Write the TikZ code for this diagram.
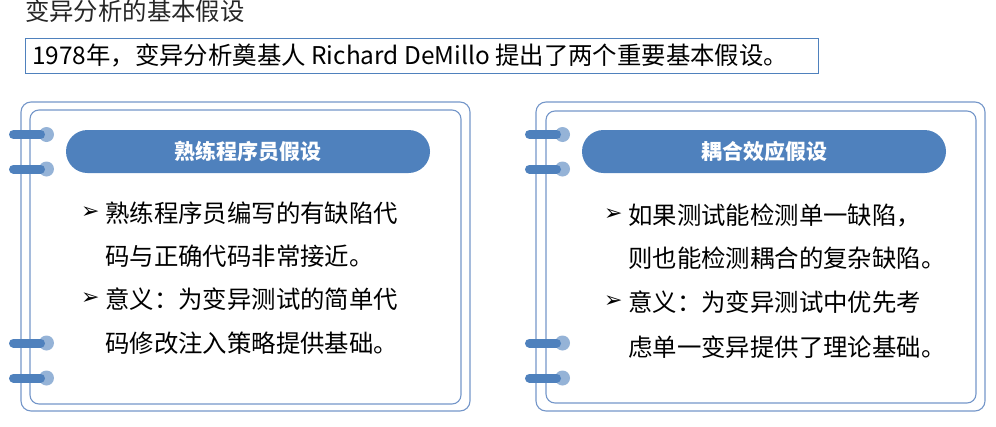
\documentclass[tikz,border=0pt]{standalone}
\usepackage{fontspec}
\setmainfont{Noto Sans CJK SC}
\newfontfamily\bulletfont{DejaVu Sans}
\definecolor{pillblue}{HTML}{4F81BD}
\definecolor{ringblue}{HTML}{95B3D7}
\definecolor{frameblue}{HTML}{7496C9}
\begin{document}
\begin{tikzpicture}[x=1pt,y=-1pt]
        \tikzset{
          pics/ring/.style={code={
            \fill[ringblue] (33,0) circle (7.5);
            \draw[pillblue,line width=9pt,line cap=round] (0,0) -- (27,0);
            },
          }
        }
        \tikzset{
          frame/.style={draw=frameblue,line width=1.1pt,rounded corners=10pt},
          pill/.style={fill=pillblue,rounded corners=21.5pt},
          bodytext/.style={anchor=west,inner sep=0pt,font=\fontsize{24.4}{28}\selectfont},
          bullet/.style={anchor=west,inner sep=0pt,font=\bulletfont\fontsize{22}{26}\selectfont},
          headtext/.style={text=white,inner sep=0pt,font=\bfseries\fontsize{21}{25}\selectfont}
        }
        \useasboundingbox (0,0) rectangle (996,426);

        %TITLE
        \node[bodytext,text=black!85] (title) at (25,11) {变异分析的基本假设};
        \draw[pillblue,line width=0.9pt] (25,38) rectangle (818,73);
        \node[bodytext] (intro) at (32,55.5) {1978年，变异分析奠基人 Richard DeMillo 提出了两个重要基本假设。};

        %LEFT CARD
        \draw[frame] (21,102) rectangle (470,411);
        \draw[frame,rounded corners=9pt] (30,110) rectangle (461,404);
        \fill[pill] (66,130) rectangle (430,173);
        \node[headtext] (headA) at (248,151.5) {熟练程序员假设};
        \draw (13.5,134.5) pic {ring};
        \draw (13.5,169) pic {ring};
        \draw (13.5,343) pic {ring};
        \draw (13.5,378) pic {ring};
        \node[bullet] (bulA1) at (81,213) {➢};
        \node[bodytext] (lineA1) at (105,213) {熟练程序员编写的有缺陷代};
        \node[bodytext] (lineA2) at (105,256) {码与正确代码非常接近。};
        \node[bullet] (bulA2) at (81,299) {➢};
        \node[bodytext] (lineA3) at (105,299) {意义：为变异测试的简单代};
        \node[bodytext] (lineA4) at (105,343) {码修改注入策略提供基础。};

        %RIGHT CARD
        \draw[frame] (536,102) rectangle (985,411);
        \draw[frame,rounded corners=9pt] (546,111) rectangle (976,403);
        \fill[pill] (582,130) rectangle (946,173);
        \node[headtext] (headB) at (764,151.5) {耦合效应假设};
        \draw (529.5,134.5) pic {ring};
        \draw (529.5,169) pic {ring};
        \draw (529.5,343) pic {ring};
        \draw (529.5,378) pic {ring};
        \node[bullet] (bulB1) at (604,215) {➢};
        \node[bodytext] (lineB1) at (628,215) {如果测试能检测单一缺陷，};
        \node[bodytext] (lineB2) at (628,258) {则也能检测耦合的复杂缺陷。};
        \node[bullet] (bulB2) at (604,302) {➢};
        \node[bodytext] (lineB3) at (628,302) {意义：为变异测试中优先考};
        \node[bodytext] (lineB4) at (628,347) {虑单一变异提供了理论基础。};
    \end{tikzpicture}
\end{document}
